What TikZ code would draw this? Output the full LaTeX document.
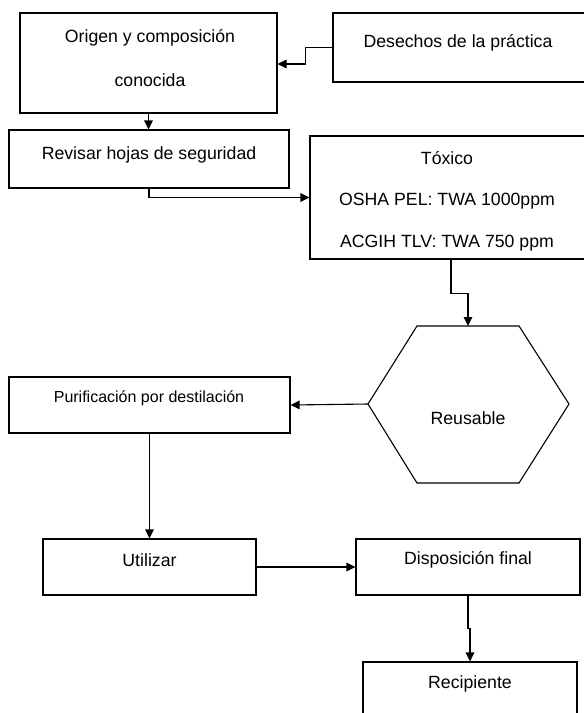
\documentclass[tikz,border=0pt]{standalone}
\usepackage{fontspec}
\setmainfont{Liberation Sans}
\usetikzlibrary{arrows.meta}
\begin{document}
\begin{tikzpicture}[x=1pt,y=-1pt,
  box/.style={draw=black,line width=1.1pt,rectangle,inner sep=0pt},
  txt/.style={inner sep=0pt,align=center,font=\fontsize{17.7}{41.5}\selectfont},
  arr/.style={draw=black,line width=1.1pt,-{Triangle[length=9pt,width=8.5pt]}},
  ln/.style={draw=black,line width=1.1pt}]
\clip (0,0) rectangle (584,713);
\fill[white] (0,0) rectangle (584,713);
% boxes
\node[box,minimum width=257pt,minimum height=100pt] (orig) at (148.5,63) {};
\node[box,minimum width=267pt,minimum height=69pt] (dese) at (466.5,47.5) {};
\node[box,minimum width=280pt,minimum height=58pt] (revi) at (149,159) {};
\node[box,minimum width=290pt,minimum height=123pt] (toxi) at (455,197.5) {};
\node[box,minimum width=281pt,minimum height=56pt] (puri) at (149.5,405) {};
\node[box,minimum width=213pt,minimum height=56pt] (util) at (149.5,567) {};
\node[box,minimum width=224pt,minimum height=56pt] (disp) at (468,567) {};
\node[box,minimum width=214pt,minimum height=78pt] (reci) at (470,701) {};
% hexagon
\coordinate (hexL) at (368,404);
\coordinate (hexT) at (468,326);
\draw[line width=1.1pt,line join=miter] (hexL) -- (417,326) -- (519,326) -- (569,404) -- (519,483) -- (417,483) -- cycle;
% texts
\node[txt,font=\fontsize{17.7}{44}\selectfont] (torig) at (150,58) {Origen y composición\\conocida};
\node[txt] (tdese) at (458,43) {Desechos de la práctica};
\node[txt] (trevi) at (149,155) {Revisar hojas de seguridad};
\node[txt] (ttoxi) at (447,201) {Tóxico\\OSHA PEL: TWA 1000ppm\\ACGIH TLV: TWA 750 ppm};
\node[txt] (treus) at (468,418) {Reusable};
\node[txt,font=\fontsize{16}{19}\selectfont] (tpuri) at (149,398) {Purificación por destilación};
\node[txt] (tutil) at (149.5,560) {Utilizar};
\node[txt] (tdisp) at (468,560) {Disposición final};
\node[txt] (treci) at (470,684) {Recipiente};
% connectors
\draw[arr] (dese.west) -- ++(-27,0) |- ([yshift=-1pt]orig.east);
\draw[arr] (orig.south) -- (orig.south |- revi.north);
\draw[arr] (revi.south) |- (toxi.west);
\draw[arr] ([xshift=-4pt]toxi.south) -- ++(0,34) -| (hexT);
\draw[arr] (hexL) -- (puri.east);
\draw[arr] (puri.south) -- (util.north);
\draw[arr] (util.east) -- (disp.west);
\draw[arr] (disp.south) -- ++(0,33) -| (reci.north);
\end{tikzpicture}
\end{document}
